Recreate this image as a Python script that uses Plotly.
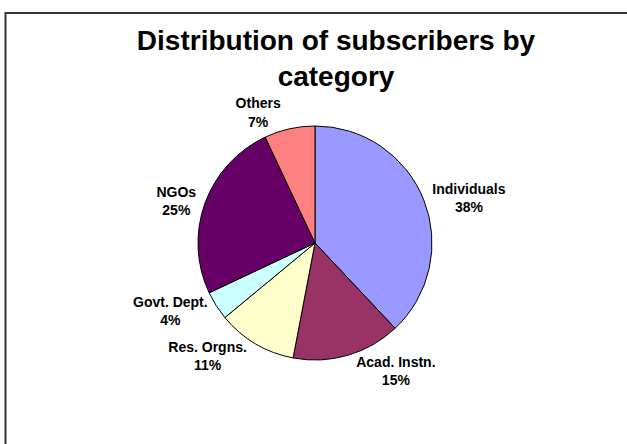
import plotly.graph_objects as go

categories = ["Individuals", "Acad. Instn.", "Res. Orgns.", "Govt. Dept.", "NGOs", "Others"]
shares = [38, 15, 11, 4, 25, 7]
colors = ["#9999FF", "#993366", "#FFFFCC", "#CCFFFF", "#660066", "#FF8080"]

W, H = 627, 444
cx, cy, r = 315, 243, 117

fig = go.Figure(go.Pie(
    labels=categories,
    values=shares,
    sort=False,
    direction="clockwise",
    rotation=0,
    marker=dict(colors=colors, line=dict(color="black", width=1)),
    textinfo="label+percent",
    texttemplate="<b>%{label}</b><br><b>%{percent:.0%}</b>",
    textposition="outside",
    outsidetextfont=dict(family="Arial, Liberation Sans, sans-serif", size=14, color="black"),
    showlegend=False,
    hoverinfo="label+percent",
    domain=dict(x=[(cx - r) / W, (cx + r) / W], y=[(H - cy - r) / H, (H - cy + r) / H]),
))

fig.update_layout(
    width=W, height=H,
    margin=dict(l=0, r=0, t=0, b=0),
    paper_bgcolor="white",
    plot_bgcolor="white",
    title=dict(
        text="<b>Distribution of subscribers by<br>category</b>",
        font=dict(family="Arial, Liberation Sans, sans-serif", size=28, color="black"),
        x=336 / W, xanchor="center",
        y=1 - 50 / H, yanchor="top",
        xref="paper", yref="paper",
    ),
    shapes=[dict(
        type="rect", xref="paper", yref="paper",
        x0=5.5 / W, x1=1.05, y0=-0.05, y1=1 - 13 / H,
        line=dict(color="#333333", width=2),
    )],
)

fig.write_html("out.html")
